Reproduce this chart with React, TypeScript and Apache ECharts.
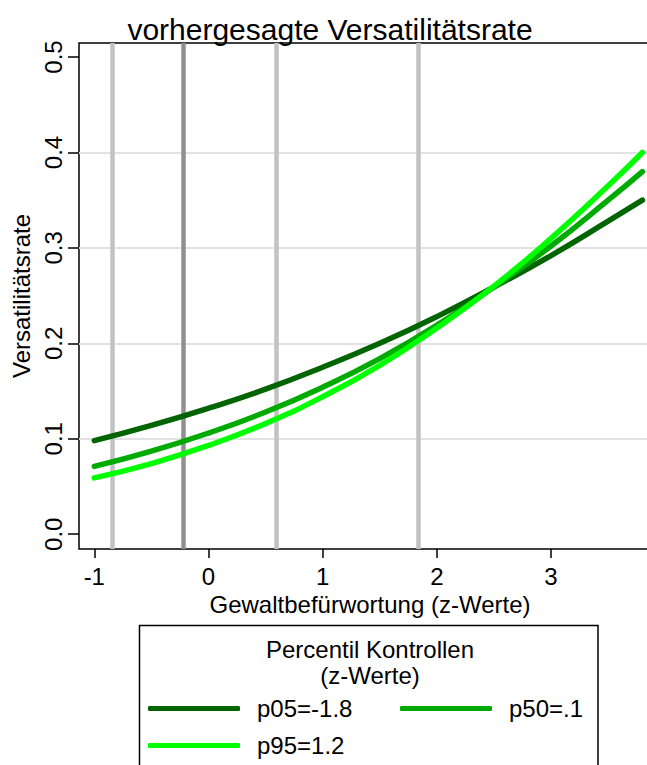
import React, { useEffect, useRef } from "react";
import * as echarts from "echarts";

// Gewaltbefürwortung (z-Werte) sampled along the x axis
const xValues = [-1, -0.5, 0, 0.5, 1, 1.5, 2, 2.5, 3, 3.5, 3.8];

// predicted Versatilitätsrate for each percentile of the controls
const p05Values = [0.098, 0.114, 0.132, 0.152, 0.175, 0.2, 0.228, 0.259, 0.292, 0.328, 0.35];
const p50Values = [0.071, 0.087, 0.106, 0.128, 0.154, 0.184, 0.219, 0.259, 0.302, 0.35, 0.38];
const p95Values = [0.059, 0.074, 0.093, 0.116, 0.144, 0.177, 0.216, 0.26, 0.31, 0.365, 0.4];

const seriesNames = ["p05=-1.8", "p50=.1", "p95=1.2"];
const seriesColors = ["#006400", "#00aa00", "#00ff00"];

// vertical reference lines on the x axis
const refLinesLight = [-0.84, 0.59, 1.84];
const refLinesDark = [-0.22];

// ticks and horizontal grid lines
const xTicks = [-1, 0, 1, 2, 3];
const yTicks = [0, 0.1, 0.2, 0.3, 0.4, 0.5];
const yGridLines = [0.1, 0.2, 0.3, 0.4];

const FONT = "'Liberation Sans', Arial, Helvetica, sans-serif";

export default function App() {
  const ref = useRef<HTMLDivElement>(null);

  useEffect(() => {
    if (!ref.current) return;
    const chart = echarts.init(ref.current, null, { renderer: "svg" });

    const pairs = (ys: number[]) => xValues.map((x, i) => [x, ys[i]]);
    const allValues = [p05Values, p50Values, p95Values];

    const curveSeries = allValues.map((vals, i) => ({
      name: seriesNames[i],
      type: "line",
      data: pairs(vals),
      smooth: true,
      showSymbol: false,
      symbol: "none",
      z: 10,
      color: seriesColors[i],
      lineStyle: { color: seriesColors[i], width: 5.5, cap: "round" },
    }));

    const refSeries = {
      name: "ref",
      type: "line",
      data: [],
      z: 1,
      silent: true,
      markLine: {
        silent: true,
        symbol: "none",
        z: 1,
        label: { show: false },
        animation: false,
        data: [
          ...yGridLines.map((v) => ({ yAxis: v, lineStyle: { color: "#e2e2e2", width: 2, type: "solid" } })),
          ...refLinesLight.map((v) => ({ xAxis: v, lineStyle: { color: "#c2c2c2", width: 4.5, type: "solid" } })),
          ...refLinesDark.map((v) => ({ xAxis: v, lineStyle: { color: "#909090", width: 4.5, type: "solid" } })),
        ],
      },
    };

    chart.setOption({
      animation: false,
      backgroundColor: "#ffffff",
      textStyle: { fontFamily: FONT },
      grid: {
        left: 79,
        top: 43,
        width: 582,
        height: 506,
        outerBoundsMode: "none",
        containLabel: false,
        show: true,
        borderColor: "#000",
        borderWidth: 1.5,
        backgroundColor: "transparent",
      },
      xAxis: {
        type: "value",
        min: -1.134,
        max: 3.963,
        name: "Gewaltbefürwortung (z-Werte)",
        nameLocation: "middle",
        nameGap: 38,
        nameTextStyle: { fontSize: 24, color: "#000", fontFamily: FONT },
        axisLine: { show: false, onZero: false },
        axisTick: { show: true, length: 9, customValues: xTicks, lineStyle: { color: "#000", width: 1.5 } },
        axisLabel: { customValues: xTicks, fontSize: 24, color: "#000", margin: 15, fontFamily: FONT },
        splitLine: { show: false },
      },
      yAxis: {
        type: "value",
        min: -0.0155,
        max: 0.5147,
        name: "Versatilitätsrate",
        nameLocation: "middle",
        nameRotate: 90,
        nameGap: 46,
        nameTextStyle: { fontSize: 24, color: "#000", fontFamily: FONT },
        axisLine: { show: false, onZero: false },
        axisTick: { show: true, length: 11, customValues: yTicks, lineStyle: { color: "#000", width: 1.5 } },
        axisLabel: {
          customValues: yTicks,
          rotate: 90,
          fontSize: 24,
          color: "#000",
          margin: 14,
          fontFamily: FONT,
          formatter: (v: number) => v.toFixed(1),
        },
        splitLine: { show: false },
      },
      legend: {
        data: seriesNames,
        left: 148,
        top: 696,
        orient: "horizontal",
        width: 500,
        padding: 0,
        itemGap: 12,
        itemWidth: 92,
        itemHeight: 5,
        icon: "roundRect",
        textStyle: { fontSize: 24, lineHeight: 25, width: 131, padding: [0, 0, 0, 12], color: "#000", fontFamily: FONT },
      },
      graphic: [
        {
          type: "text",
          x: 330,
          y: 29.5,
          style: {
            text: "vorhergesagte Versatilitätsrate",
            fontSize: 30,
            fontFamily: FONT,
            fill: "#000",
            align: "center",
            verticalAlign: "middle",
          },
        },
        {
          type: "rect",
          shape: { x: 139.5, y: 625.5, width: 458.5, height: 200 },
          style: { fill: "none", stroke: "#000", lineWidth: 1.5 },
          z: 0,
        },
        {
          type: "text",
          x: 370,
          y: 637,
          style: {
            text: "Percentil Kontrollen\n(z-Werte)",
            fontSize: 24,
            lineHeight: 25.5,
            fontFamily: FONT,
            fill: "#000",
            align: "center",
            verticalAlign: "top",
          },
        },
      ],
      series: [refSeries, ...curveSeries],
    });

    return () => chart.dispose();
  }, []);

  return (
    <div
      ref={ref}
      style={{ position: "fixed", left: 0, top: 0, width: 647, height: 765, background: "#fff" }}
    />
  );
}
